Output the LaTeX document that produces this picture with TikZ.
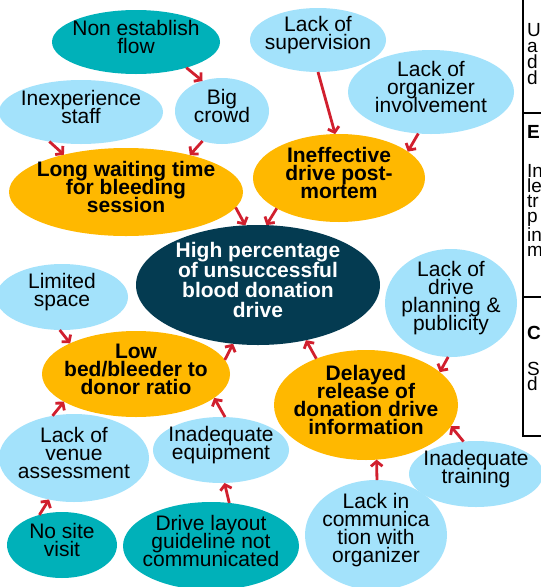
\documentclass[tikz,border=0pt]{standalone}
\usepackage{fontspec}
\setmainfont{Liberation Sans}
\usetikzlibrary{shapes.geometric,arrows.meta}

\definecolor{cteal}{HTML}{00B1B9}
\definecolor{cblue}{HTML}{A3E2FB}
\definecolor{corange}{HTML}{FFB800}
\definecolor{cdark}{HTML}{043B51}
\definecolor{cred}{HTML}{D11F2E}

% centred block of tightly spaced lines that does not enlarge its ellipse
\newlength\lnpitch
\setlength\lnpitch{18pt}
\newcommand\lns[1]{\smash{\raisebox{-0.5pt}{\makebox[0pt]{$\vcenter{\let\\\cr
  \baselineskip=\lnpitch\lineskiplimit=-50pt\lineskip=0pt
  \halign{\hfil##\hfil\cr#1\crcr}}$}}}}

\tikzset{
  bub/.style={ellipse, inner sep=0pt, outer sep=0pt, text=black,
              font=\fontsize{21}{18}\selectfont\setlength\lnpitch{18pt}},
  cause/.style={bub, fill=cblue},
  root/.style={bub, fill=cteal},
  mid/.style={bub, fill=corange, font=\fontsize{21}{18}\selectfont\bfseries\setlength\lnpitch{18pt}},
  top/.style={bub, fill=cdark, text=white, font=\fontsize{21}{20}\selectfont\bfseries\setlength\lnpitch{20pt}},
  arr/.style={cred, line width=2.8pt,
              -{Straight Barb[length=4.8pt,width=11.5pt]}},
  panel/.style={anchor=north west, inner sep=0pt, align=left,
                font=\fontsize{19}{15}\selectfont},
  panelhead/.style={anchor=base west, inner sep=0pt, font=\fontsize{19}{15}\selectfont\bfseries},
  rule/.style={line width=1.8pt, black}
}

\begin{document}
\begin{tikzpicture}[x=1pt,y=-1pt]
\fill[white] (0,0) rectangle (541,587);
\useasboundingbox (0,0) rectangle (541,587);

% problem bubbles
\node[root,  minimum width=168pt, minimum height=64pt]  (nonflow)    at (136,42)  {\lns{Non establish\\flow}};
\node[cause, minimum width=164pt, minimum height=64pt]  (inexp)      at (81,112)  {\lns{Inexperience\\staff}};
\node[cause, minimum width=94pt,  minimum height=66pt]  (crowd)      at (222,111) {\lns{Big\\crowd}};
\node[mid,   minimum width=234pt, minimum height=88pt]  (waiting)    at (126,192) {\lns{Long waiting time\\for bleeding\\session}};
\node[cause, minimum width=136pt, minimum height=64pt]  (superv)     at (318,40)  {\lns{Lack of\\supervision}};
\node[cause, minimum width=166pt, minimum height=84pt]  (organizer)  at (431,92)  {\lns{Lack of\\organizer\\involvement}};
\node[mid,   minimum width=172pt, minimum height=88pt]  (postmortem) at (339,178) {\lns{Ineffective\\drive post-\\mortem}};
\node[top,   minimum width=244pt, minimum height=120pt] (main)       at (258,285) {\lns{High percentage\\of unsuccessful\\blood donation\\drive}};
\node[cause, minimum width=132pt, minimum height=108pt] (planning)   at (451,303) {\lns{Lack of\\drive\\planning \&\\publicity}};
\node[cause, minimum width=132pt, minimum height=66pt]  (space)      at (62,297)  {\lns{Limited\\space}};
\node[mid,   minimum width=188pt, minimum height=86pt]  (ratio)      at (136,374) {\lns{Low\\bed/bleeder to\\donor ratio}};
\node[mid,   minimum width=184pt, minimum height=110pt] (delayed)    at (366,405) {\lns{Delayed\\release of\\donation drive\\information}};
\node[cause, minimum width=150pt, minimum height=88pt]  (venue)      at (74,458)  {\lns{Lack of\\venue\\assessment}};
\node[cause, minimum width=136pt, minimum height=66pt]  (equip)      at (221,450) {\lns{Inadequate\\equipment}};
\node[cause, minimum width=134pt, minimum height=66pt]  (training)   at (476,474) {\lns{Inadequate\\training}};
\node[root,  minimum width=110pt, minimum height=66pt]  (sitevisit)  at (62,545)  {\lns{No site\\visit}};
\node[root,  minimum width=176pt, minimum height=88pt]  (layout)     at (211,546) {\lns{Drive layout\\guideline not\\communicated}};
\node[cause, minimum width=142pt, minimum height=110pt] (commun)     at (376,535) {\lns{Lack in\\communica\\tion with\\organizer}};

% cause-effect arrows
\draw[arr] (nonflow.-27)     -- (crowd.123);
\draw[arr] (inexp.-137)      -- (waiting.149);
\draw[arr] (crowd.-123)      -- (waiting.30);
\draw[arr] (waiting.-8)      -- (main.102);
\draw[arr] (postmortem.-154) -- (main.82);
\draw[arr] (superv.-90)      -- (postmortem.95);
\draw[arr] (organizer.-107)  -- (postmortem.21);
\draw[arr] (space.-94)       -- (ratio.155);
\draw[arr] (ratio.9)         -- (main.-113);
\draw[arr] (delayed.137)     -- (main.-49);
\draw[arr] (planning.-93)    -- (delayed.24);
\draw[arr] (venue.117)       -- (ratio.-159);
\draw[arr] (equip.83)        -- (ratio.-17);
\draw[arr] (training.111)    -- (delayed.-14);
\draw[arr] (commun.89)       -- (delayed.-79);
\draw[arr] (sitevisit.127)   -- (venue.-121);
\draw[arr] (layout.67)       -- (equip.-84);

% side table
\draw[rule] (523,-5) -- (523,436) -- (545,436);
\draw[rule] (523,113) -- (545,113);
\draw[rule] (523,297) -- (545,297);
\node[panel, font=\fontsize{19}{16}\selectfont] (rowa) at (527,23.5) {U\\a\\d\\d};
\node[panelhead] (heade) at (527,138) {E};
\node[panel] (rowe) at (527,164.5) {In\\le\\tr\\p\\in\\m};
\node[panelhead] (headc) at (527,339) {C};
\node[panel] (rowc) at (527,362.5) {S\\d};
\end{tikzpicture}
\end{document}
